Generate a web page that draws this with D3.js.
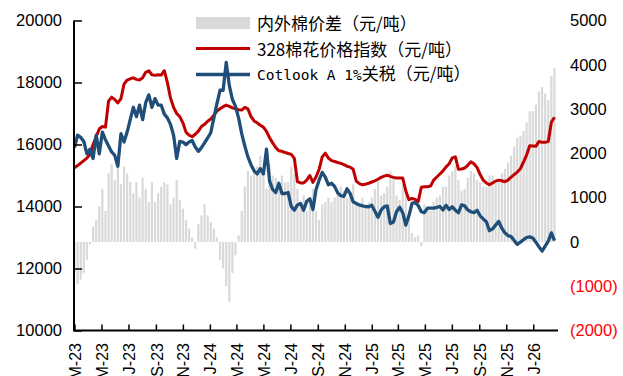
<!DOCTYPE html>
<html><head><meta charset="utf-8">
<script src="https://cdn.jsdelivr.net/npm/d3@7"></script>
<style>body{margin:0;background:#fff}svg{display:block}</style>
</head><body>
<svg id="c" width="623" height="376"></svg>
<script>
// weekly observations starting from this date
const startDate = "2023-03-01";
const red328 = [
15250,15320,15400,15480,15560,15680,16000,16250,16500,16580,
16560,17400,17530,17450,17340,17480,17950,18080,18120,18150,
18100,18080,18150,18330,18380,18250,18230,18250,18240,18380,
18000,17500,17200,17000,16900,16700,16400,16300,16250,16330,
16430,16580,16650,16750,16820,16950,17080,17150,17220,17270,
17230,17180,17150,17120,17110,17200,17150,16900,16760,16700,
16620,16560,16420,16220,16050,15900,15800,15780,15740,15710,
15680,15550,14800,14760,14760,14850,15000,14780,14950,15200,
15600,15720,15560,15480,15450,15420,15390,15350,15300,15270,
15200,14820,14740,14700,14720,14750,14790,14830,14880,14940,
14980,15010,14970,14940,14920,14920,14920,14500,14220,14260,
14230,14160,14620,14640,14640,14660,14850,14950,15050,15150,
15280,15380,15570,15600,15200,15210,15240,15330,15440,15380,
15260,15030,14850,14760,14700,14760,14820,14850,14830,14800,
14850,14950,15030,15110,15220,15430,15660,15960,15950,15940,
16100,16070,16070,16100,16720,16880];
const cotlook = [
15900,16300,16230,16100,15700,15850,15550,16300,15700,16400,
16150,15950,15760,15650,15300,16350,16080,16400,16800,17200,
16900,17270,16800,17350,17600,17200,17480,17270,17270,16980,
16860,16650,16300,15550,16100,16080,15990,16080,16130,15920,
15780,15900,16050,16210,16380,16850,17320,17750,17750,18650,
17900,17450,17230,16850,16350,15950,15600,15350,15150,15050,
15220,15050,15850,14820,14550,14450,14750,14420,14420,14450,
14000,13880,14050,14100,13880,14170,14250,13900,14550,14850,
15100,14950,14700,14750,14650,14440,14350,14330,14570,14420,
14150,14100,14050,14020,14000,13990,14040,13850,13650,13880,
13990,14020,13450,13500,13830,13980,13800,13400,13700,14100,
14130,14030,13830,13800,13950,13950,13950,13970,14000,13890,
14040,13900,13990,13880,13800,14050,14020,13890,13830,13800,
13880,13700,13600,13510,13220,13280,13400,13520,13300,13150,
13060,13030,12900,12780,12850,12930,13000,13020,12985,12850,
12700,12560,12720,12880,13150,12900];
const spread = [
-700,-950,-850,-700,-400,-50,350,500,800,1200,
700,1550,1750,1400,1900,1300,1700,1550,1350,1100,
1350,1000,1450,1200,900,1350,900,1100,1250,1350,
1300,850,1000,1400,950,750,500,300,100,-150,
400,600,850,600,450,300,100,-400,-600,-1000,
-1350,-700,-300,150,700,1250,1600,1500,1650,1700,
1950,1500,1200,1750,1500,1450,1250,1500,1350,1350,
1700,1550,1200,900,1050,700,1000,1200,700,500,
850,900,1000,900,1000,1100,1250,1150,1000,1050,
1300,900,850,1000,800,900,1000,1200,1450,1050,
1100,1250,1600,1450,1050,950,1300,1100,550,200,
100,150,-100,850,700,700,900,1000,1050,1250,
1250,1500,1600,1700,1400,1150,1200,1450,1600,1550,
1400,1350,1250,1250,1500,1500,1400,1350,1550,1650,
1800,1950,2150,2350,2400,2500,2700,2950,2950,3100,
3400,3500,3350,3200,3750,3930];
const leftTicks = [10000,12000,14000,16000,18000,20000];
const rightTicks = [-2000,-1000,0,1000,2000,3000,4000,5000];
const monthLetters = ["J","F","M","A","M","J","J","A","S","O","N","D"];
const legendLabels = ["内外棉价差（元/吨）","328棉花价格指数（元/吨）","关税（元/吨）"];
const legendLatin = "Cotlook A 1%";

const colRed = "#C00000", colBlue = "#1F4E79", colGray = "#D9D9D9";
const svg = d3.select("#c");
const t0 = d3.isoParse(startDate + "T00:00:00");
const dates = red328.map((d,i)=>d3.timeDay.offset(new Date(2023,2,1), i*7));

const x = d3.scaleTime().domain([new Date(2023,2,1), new Date(2026,1,26)]).range([74.5,558]);
const yL = d3.scaleLinear().domain([10000,20000]).range([330.5,20.5]);
const yR = d3.scaleLinear().domain([-2000,5000]).range([330.5,20.5]);

// bars
svg.append("g").selectAll("rect").data(spread).join("rect")
  .attr("x",(d,i)=>x(dates[i])-1.1)
  .attr("width",2.2)
  .attr("y",d=>Math.min(yR(d),yR(0)))
  .attr("height",d=>Math.abs(yR(d)-yR(0)))
  .attr("fill",colGray);

const line = d3.line().x((d,i)=>x(dates[i])).y(d=>yL(d)).curve(d3.curveLinear);
svg.append("path").datum(red328).attr("d",line).attr("fill","none")
  .attr("stroke",colRed).attr("stroke-width",3).attr("stroke-linejoin","round");
svg.append("path").datum(cotlook).attr("d",line).attr("fill","none")
  .attr("stroke",colBlue).attr("stroke-width",3.3).attr("stroke-linejoin","round");

// left axis
const gl = svg.append("g").attr("transform","translate(74,0)")
  .call(d3.axisLeft(yL).tickValues(leftTicks).tickSize(-8).tickFormat(d3.format("d")).tickPadding(12));
gl.select(".domain").attr("stroke","#000").attr("stroke-width",2).attr("d","M0,20.5V330.5");
gl.selectAll(".tick line").attr("stroke","#000").attr("stroke-width",1.5);
gl.selectAll(".tick text").attr("font-family","Liberation Sans, Arial, sans-serif").attr("font-size",16.5).attr("fill","#000");

// bottom axis
const xTicks = d3.timeMonth.every(2).range(new Date(2023,2,1), new Date(2026,1,2));
const gb = svg.append("g").attr("transform","translate(0,330.5)")
  .call(d3.axisBottom(x).tickValues(xTicks).tickSize(-6).tickFormat(""));
gb.select(".domain").attr("stroke","#000").attr("stroke-width",2).attr("d","M73,0H558");
gb.selectAll(".tick line").attr("stroke","#000").attr("stroke-width",1.5);
svg.append("g").selectAll("text").data(xTicks).join("text")
  .attr("transform",d=>`translate(${x(d)+1},343) rotate(-90)`)
  .attr("text-anchor","end").attr("dy","0.35em")
  .attr("font-family","Liberation Sans, Arial, sans-serif").attr("font-size",16)
  .text(d=>monthLetters[d.getMonth()]+"-"+String(d.getFullYear()).slice(2));

// right axis labels
svg.append("g").selectAll("text").data(rightTicks).join("text")
  .attr("x",570).attr("y",d=>yR(d)).attr("dy","0.35em")
  .attr("font-family","Liberation Sans, Arial, sans-serif").attr("font-size",16.5)
  .attr("fill",d=>d<0?"#FF0000":"#000")
  .text(d=>d<0?"("+Math.abs(d)+")":String(d));

// legend
const lg = svg.append("g");
const lf = "Noto Sans CJK SC, sans-serif";
lg.append("rect").attr("x",196).attr("y",17).attr("width",54).attr("height",12).attr("fill",colGray);
lg.append("text").attr("x",257).attr("y",24).attr("dy","0.36em").attr("font-family",lf).attr("font-size",17).text(legendLabels[0]);
lg.append("line").attr("x1",196).attr("x2",250).attr("y1",48.5).attr("y2",48.5).attr("stroke",colRed).attr("stroke-width",3);
lg.append("text").attr("x",257).attr("y",49.5).attr("dy","0.36em").attr("font-family",lf).attr("font-size",17).text(legendLabels[1]);
lg.append("line").attr("x1",196).attr("x2",250).attr("y1",74.5).attr("y2",74.5).attr("stroke",colBlue).attr("stroke-width",3.3);
const t3 = lg.append("text").attr("x",257).attr("y",74).attr("dy","0.36em").attr("font-family",lf).attr("font-size",17);
t3.append("tspan").attr("font-family","DejaVu Sans Mono, monospace").attr("font-size",14.5).text(legendLatin);
t3.append("tspan").text(legendLabels[2]);
</script>
</body></html>
